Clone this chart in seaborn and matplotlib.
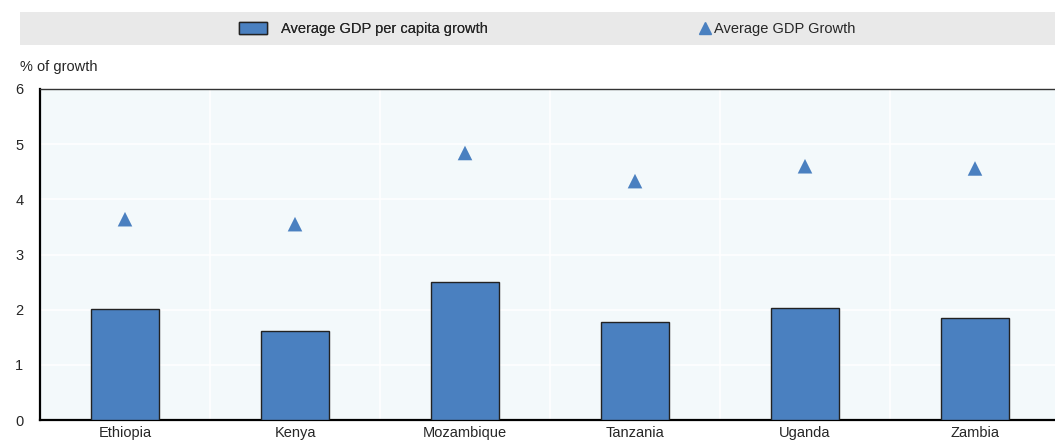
import numpy as np
import pandas as pd
import matplotlib
matplotlib.use("Agg")
import matplotlib.pyplot as plt
import seaborn as sns
from matplotlib.patches import Rectangle, Patch
from matplotlib.lines import Line2D
from matplotlib.ticker import FixedLocator

# data
countries = ["Ethiopia", "Kenya", "Mozambique", "Tanzania", "Uganda", "Zambia"]
gdp_per_capita_growth = [2.01, 1.61, 2.50, 1.78, 2.03, 1.85]
gdp_growth = [3.64, 3.55, 4.84, 4.33, 4.60, 4.56]

df = pd.DataFrame({
    "country": countries,
    "per_capita": gdp_per_capita_growth,
    "gdp": gdp_growth,
})

sns.set_style("white")
plt.rcParams["font.family"] = ["Liberation Sans Narrow", "Liberation Sans", "DejaVu Sans"]
plt.rcParams["font.size"] = 10.5

BAR = "#4a80c0"

fig = plt.figure(figsize=(10.55, 4.41), dpi=100)
ax = fig.add_axes([40 / 1055, 1 - 420 / 441, 1020 / 1055, (420 - 89) / 441])
ax.set_facecolor("#f3f9fb")

sns.barplot(data=df, x="country", y="per_capita", color=BAR, width=0.4,
            edgecolor="#222222", linewidth=1.0, saturation=1, ax=ax, zorder=3)
sns.scatterplot(data=df, x="country", y="gdp", marker="^", s=110, color=BAR,
                edgecolor="none", ax=ax, zorder=4)

ax.set_xlim(-0.5, 5.5)
ax.set_ylim(0, 6)
ax.set_yticks(range(0, 7))
ax.set_xlabel("")
ax.set_ylabel("")

# grid: horizontal at integers, vertical at category boundaries
ax.xaxis.set_minor_locator(FixedLocator(np.arange(0.5, 5.5, 1)))
ax.grid(axis="y", which="major", color="white", lw=1.2, zorder=0)
ax.grid(axis="x", which="minor", color="white", lw=1.2, zorder=0)
ax.set_axisbelow(True)

ax.tick_params(axis="x", which="major", length=0, pad=4, labelsize=10.5)
ax.tick_params(axis="x", which="minor", direction="in", length=5, width=1.2, color="black")
ax.tick_params(axis="y", length=4, width=0.8, color="#999999", pad=8, labelsize=10.5)

for side in ["left", "bottom"]:
    ax.spines[side].set_color("black")
    ax.spines[side].set_linewidth(1.6)
ax.spines["top"].set_color("#333333")
ax.spines["top"].set_linewidth(1.0)
ax.spines["right"].set_visible(False)

fig.text(20 / 1055, 1 - 67 / 441, "% of growth", fontsize=10.5, va="center", ha="left")

# legend band
fig.patches.append(Rectangle((20 / 1055, 1 - 45 / 441), 1035 / 1055, 33 / 441,
                             transform=fig.transFigure, facecolor="#e9e9e9",
                             edgecolor="none", zorder=0))
bar_handle = Patch(facecolor=BAR, edgecolor="#222222", linewidth=1.0)
tri_handle = Line2D([], [], marker="^", color=BAR, linestyle="none", markersize=8)

leg1 = fig.legend([bar_handle], ["Average GDP per capita growth"], loc="center left",
                  bbox_to_anchor=(233 / 1055, 1 - 29 / 441), frameon=False,
                  handlelength=1.9, handleheight=0.9, handletextpad=1.0,
                  borderaxespad=0, fontsize=10.5)
leg2 = fig.legend([tri_handle], ["Average GDP Growth"], loc="center left",
                  bbox_to_anchor=(693 / 1055, 1 - 29 / 441), frameon=False,
                  handlelength=0.9, handletextpad=0.15,
                  borderaxespad=0, fontsize=10.5)
fig.add_artist(leg1)

fig.savefig("out.png", dpi=100)
